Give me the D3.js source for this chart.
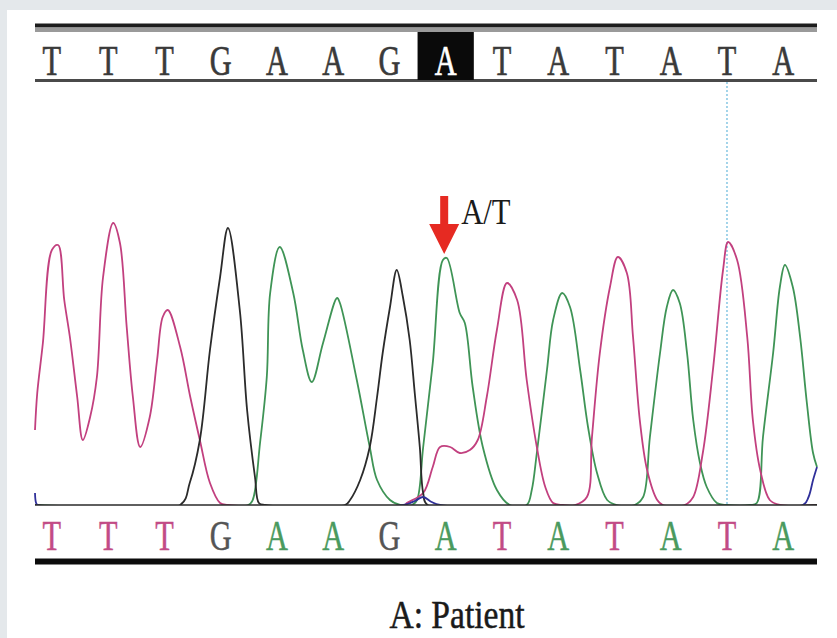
<!DOCTYPE html>
<html>
<head>
<meta charset="utf-8">
<script src="https://cdn.jsdelivr.net/npm/d3@7"></script>
<style>
  html, body { margin: 0; padding: 0; background: #e4e8eb; }
  svg { display: block; }
</style>
</head>
<body>
<svg id="chart" width="837" height="638"></svg>
<script>
// base calls (top = reference, bottom = called sequence)
var bases = ["T", "T", "T", "G", "A", "A", "G", "A", "T", "A", "T", "A", "T", "A"];
var mutationIndex = 7;
var mutationLabel = "A/T";
var markerIndex = 12;
var caption = "A: Patient";

// traces: [base position, signal]
var pinkTrace = [
  [-0.30, 75], [-0.26, 112], [-0.16, 162], [0.00, 255], [0.11, 260], [0.22, 205], [0.32, 168],
  [0.45, 108], [0.55, 65], [0.68, 88], [0.80, 128], [0.91, 228], [1.09, 282], [1.21, 262],
  [1.33, 178], [1.44, 108], [1.57, 58], [1.74, 88], [1.87, 145], [1.97, 188], [2.06, 195],
  [2.28, 158], [2.46, 108], [2.63, 65], [2.81, 22], [2.99, 2], [3.13, 0],
  [6.28, 0], [6.31, 2], [6.60, 12], [6.77, 38], [6.90, 58], [7.08, 58], [7.25, 52],
  [7.43, 55], [7.57, 65], [7.73, 108], [7.91, 175], [8.09, 222], [8.27, 205], [8.44, 125],
  [8.62, 58], [8.77, 18], [8.91, 2], [9.08, 0], [9.30, 0], [9.51, 8], [9.60, 68], [9.74, 152],
  [9.92, 218], [10.06, 248], [10.22, 232], [10.33, 168], [10.45, 85], [10.58, 35], [10.76, 5],
  [10.86, 0], [11.25, 0], [11.40, 8], [11.57, 52], [11.75, 135], [11.93, 235], [12.02, 263],
  [12.18, 245], [12.36, 168], [12.46, 85], [12.59, 35], [12.76, 5], [12.94, 0], [13.60, 0]
];

var greenTrace = [
  [-0.30, 0], [3.49, 0], [3.57, 5], [3.70, 62], [3.82, 128], [3.88, 212], [4.05, 258],
  [4.29, 212], [4.46, 155], [4.62, 123], [4.82, 162], [5.07, 207], [5.12, 202], [5.42, 125],
  [5.65, 58], [5.78, 25], [6.01, 5], [6.19, 0], [6.40, 0], [6.49, 5], [6.60, 58], [6.77, 142],
  [6.95, 245], [7.02, 247], [7.25, 192], [7.34, 182], [7.48, 118], [7.66, 58], [7.91, 15],
  [8.14, 0], [8.44, 0], [8.53, 15], [8.62, 52], [8.80, 135], [8.91, 185], [9.07, 212],
  [9.21, 198], [9.39, 135], [9.53, 78], [9.69, 32], [9.87, 5], [10.04, 0], [10.36, 0],
  [10.51, 8], [10.63, 68], [10.81, 152], [10.93, 198], [11.04, 215], [11.16, 202], [11.29, 152],
  [11.40, 85], [11.52, 42], [11.64, 18], [11.82, 2], [12.00, 0], [12.41, 0], [12.53, 2],
  [12.64, 68], [12.82, 152], [12.94, 218], [13.03, 240], [13.17, 218], [13.30, 168],
  [13.42, 102], [13.53, 52], [13.60, 38]
];

var blackTrace = [
  [-0.30, 0], [2.28, 0], [2.45, 22], [2.63, 65], [2.81, 155], [2.99, 228], [3.13, 277],
  [3.34, 195], [3.47, 95], [3.61, 28], [3.68, 2], [3.79, 0], [5.21, 0], [5.30, 5], [5.48, 25],
  [5.65, 58], [5.78, 108], [5.88, 152], [6.01, 198], [6.13, 235], [6.24, 208], [6.36, 165],
  [6.45, 112], [6.54, 58], [6.60, 12], [6.68, 0], [13.60, 0]
];

var blueTrace = [
  [-0.30, 12], [-0.28, 2], [-0.25, 0], [6.25, 0], [6.45, 4], [6.60, 8], [6.75, 3], [6.90, 0],
  [13.35, 0], [13.45, 8], [13.53, 25], [13.60, 38]
];

var baseColor = { T: "#c2407f", A: "#3f9456", G: "#2b2b2b", C: "#30309a" };
var letterColor = { T: "#c24b86", A: "#4a9a5e", G: "#555555", C: "#30309a" };

var svg = d3.select("#chart");

// white panel
svg.append("rect")
  .attr("x", 7).attr("y", 10)
  .attr("width", 830).attr("height", 628)
  .attr("fill", "#ffffff");

var x = d3.scaleLinear()
  .domain([-0.3, 13.6])
  .range([35, 817]);

var y = d3.scaleLinear()
  .domain([0, 300])
  .range([505, 205]);

// ---- top sequence bar ----
svg.append("line")
  .attr("x1", x(-0.3)).attr("x2", x(13.6))
  .attr("y1", 25.5).attr("y2", 25.5)
  .attr("stroke", "#1c1c1c").attr("stroke-width", 4);
svg.append("line")
  .attr("x1", x(-0.3)).attr("x2", x(13.6))
  .attr("y1", 30).attr("y2", 30)
  .attr("stroke", "#9a9a9a").attr("stroke-width", 4);
svg.append("line")
  .attr("x1", x(-0.3)).attr("x2", x(13.6))
  .attr("y1", 80.5).attr("y2", 80.5)
  .attr("stroke", "#4a4a4a").attr("stroke-width", 3);

svg.append("rect")
  .attr("x", x(mutationIndex - 0.5))
  .attr("y", 32)
  .attr("width", x(mutationIndex + 0.5) - x(mutationIndex - 0.5))
  .attr("height", 48)
  .attr("fill", "#0a0a0a");

svg.append("g")
  .selectAll("text")
  .data(bases)
  .enter()
  .append("text")
  .attr("transform", function (d, i) { return "translate(" + x(i) + ",75) scale(0.82,1.12)"; })
  .attr("text-anchor", "middle")
  .style("font-family", "'Liberation Serif', serif")
  .style("font-size", "37px")
  .attr("fill", function (d, i) { return i === mutationIndex ? "#ffffff" : "#3a3a3a"; })
  .attr("stroke", function (d, i) { return i === mutationIndex ? "#ffffff" : "#3a3a3a"; })
  .attr("stroke-width", 0.6)
  .text(function (d) { return d; });

// marker line
svg.append("line")
  .attr("x1", x(markerIndex)).attr("x2", x(markerIndex))
  .attr("y1", 82).attr("y2", y(0))
  .attr("stroke", "#86c6e3").attr("stroke-width", 1.5)
  .attr("stroke-dasharray", "2,2");

// ---- traces ----
svg.append("clipPath")
  .attr("id", "plotClip")
  .append("rect")
  .attr("x", x(-0.3) - 2).attr("y", 100)
  .attr("width", x(13.6) - x(-0.3) + 4).attr("height", y(0) - 100);

var line = d3.line()
  .x(function (d) { return x(d[0]); })
  .y(function (d) { return y(d[1]); })
  .curve(d3.curveCatmullRom.alpha(0.5));

var traces = svg.append("g").attr("clip-path", "url(#plotClip)");
[[greenTrace, baseColor.A], [pinkTrace, baseColor.T], [blackTrace, baseColor.G], [blueTrace, baseColor.C]]
  .forEach(function (t) {
    traces.append("path")
      .datum(t[0])
      .attr("d", line)
      .attr("fill", "none")
      .attr("stroke", t[1])
      .attr("stroke-width", 1.8)
      .attr("stroke-linejoin", "round");
  });

svg.append("line")
  .attr("x1", x(-0.3)).attr("x2", x(13.6))
  .attr("y1", y(0)).attr("y2", y(0))
  .attr("stroke", "#2a2a2a").attr("stroke-width", 1.6);

// ---- mutation arrow ----
var peakTop = y(d3.max(greenTrace.filter(function (d) { return Math.abs(d[0] - mutationIndex) < 0.5; }), function (d) { return d[1]; }));
var ax = x(mutationIndex) - 1.5;
var tipY = peakTop - 4;
var arrow = svg.append("g");
arrow.append("rect")
  .attr("x", ax - 4).attr("y", tipY - 58)
  .attr("width", 8).attr("height", 30)
  .attr("fill", "#e62a22");
arrow.append("path")
  .attr("d", "M" + (ax - 15) + "," + (tipY - 30) + " L" + (ax + 15) + "," + (tipY - 30) + " L" + ax + "," + tipY + " Z")
  .attr("fill", "#e62a22");

svg.append("text")
  .attr("transform", "translate(" + (ax + 17) + "," + (tipY - 30) + ") scale(0.85,1)")
  .style("font-family", "'Liberation Serif', serif")
  .style("font-size", "36px")
  .attr("fill", "#1a1a1a")
  .text(mutationLabel);

// ---- bottom sequence ----
svg.append("g")
  .selectAll("text")
  .data(bases)
  .enter()
  .append("text")
  .attr("transform", function (d, i) { return "translate(" + x(i) + ",550) scale(0.82,1.12)"; })
  .attr("text-anchor", "middle")
  .style("font-family", "'Liberation Serif', serif")
  .style("font-size", "37px")
  .attr("fill", function (d) { return letterColor[d]; })
  .attr("stroke", function (d) { return letterColor[d]; })
  .attr("stroke-width", 0.4)
  .text(function (d) { return d; });

svg.append("line")
  .attr("x1", x(-0.3)).attr("x2", x(13.6))
  .attr("y1", 561.5).attr("y2", 561.5)
  .attr("stroke", "#0c0c0c").attr("stroke-width", 6);

svg.append("text")
  .attr("transform", "translate(457,628) scale(0.84,1)")
  .attr("text-anchor", "middle")
  .style("font-family", "'Liberation Serif', serif")
  .style("font-size", "40px")
  .attr("fill", "#1a1a1a")
  .attr("stroke", "#1a1a1a")
  .attr("stroke-width", 0.5)
  .text(caption);
</script>
</body>
</html>
